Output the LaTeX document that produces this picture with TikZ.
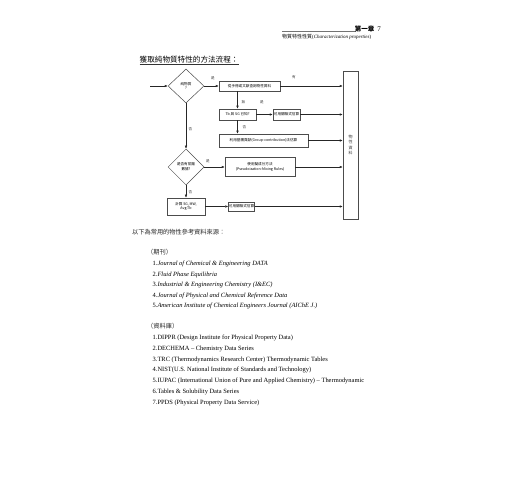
\documentclass[tikz,border=0pt]{standalone}
\usepackage{fontspec}
\setmainfont{Liberation Serif}
\newfontfamily\cjk{Noto Sans CJK TC}
\usetikzlibrary{shapes.geometric,arrows.meta,calc}
\begin{document}
\begin{tikzpicture}[x=1pt,y=-1pt,
  box/.style={draw=black!70,line width=0.5pt,inner sep=0.4pt,font=\cjk\fontsize{3.6}{4.6}\selectfont,align=center},
  dia/.style={draw=black!70,line width=0.5pt,diamond,inner sep=0pt,aspect=1,font=\cjk\fontsize{3.6}{4.8}\selectfont,align=center},
  arr/.style={draw=black!85,line width=0.45pt,-{Latex[length=3pt,width=2.4pt]}},
  lab/.style={font=\cjk\fontsize{3.6}{4}\selectfont,inner sep=0pt,text=black!75},
  ref/.style={anchor=west,inner sep=0pt,font=\fontsize{6.45}{7}\selectfont},
  head/.style={anchor=west,inner sep=0pt,text=black!85,font=\cjk\fontsize{6.2}{7}\selectfont}
]
\useasboundingbox[fill=white] (0,0) rectangle (520,500);

% page header
\draw[black!55,line width=0.4pt] (282,31) -- (356,31);
\node[inner sep=0pt,font=\cjk\bfseries\fontsize{6.5}{7}\selectfont] (chap) at (364.5,28.8) {第一章};
\node[inner sep=0pt,font=\fontsize{7}{8}\selectfont] (pg) at (379,29) {7};
\node[anchor=west,inner sep=0pt,font=\fontsize{5}{6}\selectfont] (sub) at (282,37) {{\cjk 物質特性性質}(\textit{Characterization properties})};

% title
\node[anchor=west,inner sep=0pt,font=\cjk\fontsize{7.6}{9}\selectfont] (title) at (139.5,59.5) {獲取純物質特性的方法流程：};
\draw[black!80,line width=0.45pt] (title.south west) ++(0,0.8) -- ($(title.south east)+(0,0.8)$);

% flowchart
\coordinate (start) at (150,86);
\node[dia,minimum width=36pt,minimum height=34pt] (d1) at (186,86) {純物質\\?};
\node[box,minimum width=61pt,minimum height=10pt] (b1) at (249.5,86) {從手冊或文獻查詢物性資料};
\node[draw=black!70,line width=0.5pt,minimum width=15pt,minimum height=148pt,inner sep=0pt,align=center,text=black!80,font=\cjk\fontsize{4}{5.2}\selectfont] (col) at (350.5,145) {物\\性\\資\\料};
\node[box,minimum width=37pt,minimum height=11pt] (b2) at (237.5,114.5) {Tb 與 SG 已知?};
\node[box,minimum width=27pt,minimum height=11pt] (b3) at (286.5,114.5) {可用關聯式估算};
\node[box,minimum width=89pt,minimum height=13pt] (b4) at (263.5,140.5) {利用基團貢獻(Group-contribution)法估算};
\node[dia,minimum width=36pt,minimum height=36pt] (d2) at (186,167) {是否有蒸餾\\數據?};
\node[box,minimum width=70pt,minimum height=19pt] (b5) at (260,167) {使用擬成分方法\\(Pseudoization-Mixing Rules)};
\node[box,minimum width=38pt,minimum height=17pt] (b6) at (186,206.5) {計算 SG, MW,\\Avg.Tb};
\node[box,minimum width=23pt,minimum height=9pt] (b7) at (241.5,206.5) {可用關聯式估算};

\draw[arr] (start) -- (d1.west);
\draw[arr] (d1.east) -- (b1.west);
\draw[arr] (b1.east) -- (b1.east -| col.west);
\draw[arr] (b2.north |- b1.south) -- (b2.north);
\draw[arr] (b2.east) -- (b3.west);
\draw[arr] (b3.east) -- (b3.east -| col.west);
\draw[arr] (b2.south) -- (b2.south |- b4.north);
\draw[arr] (b4.east) -- (b4.east -| col.west);
\draw[arr] (d1.south) -- (d2.north);
\draw[arr] (d2.east) -- (b5.west);
\draw[arr] (b5.east) -- (b5.east -| col.west);
\draw[arr] (d2.south) -- (b6.north);
\draw[arr] (b6.east) -- (b7.west);
\draw[arr] (b7.east) -- (b7.east -| col.west);

\node[lab] (l1) at (213,78) {是};
\node[lab] (l2) at (294,77) {有};
\node[lab] (l3) at (243.5,102.5) {無};
\node[lab] (l4) at (262,102.5) {是};
\node[lab] (l5) at (244.5,127) {否};
\node[lab] (l6) at (190.5,129) {否};
\node[lab] (l7) at (208,161) {是};
\node[lab] (l8) at (190.5,192) {否};

% references
\node[head] (intro) at (132,232) {以下為常用的物性參考資料來源：};
\node[head] (jh) at (147,252) {（期刊）};
\node[ref] (j1) at (152.5,264) {1.\textit{Journal of Chemical \& Engineering DATA}};
\node[ref] (j2) at (152.5,274.5) {2.\textit{Fluid Phase Equilibria}};
\node[ref] (j3) at (152.5,285) {3.\textit{Industrial \& Engineering Chemistry (I\&EC)}};
\node[ref] (j4) at (152.5,295.5) {4.\textit{Journal of Physical and Chemical Reference Data}};
\node[ref] (j5) at (152.5,306) {5.\textit{American Institute of Chemical Engineers Journal (AIChE J.)}};
\node[head] (dh) at (147,326) {（資料庫）};
\node[ref] (r1) at (152.5,338) {1.DIPPR (Design Institute for Physical Property Data)};
\node[ref] (r2) at (152.5,348.8) {2.DECHEMA – Chemistry Data Series};
\node[ref] (r3) at (152.5,359.6) {3.TRC (Thermodynamics Research Center) Thermodynamic Tables};
\node[ref] (r4) at (152.5,370.4) {4.NIST(U.S. National Institute of Standards and Technology)};
\node[ref] (r5) at (152.5,381.2) {5.IUPAC (International Union of Pure and Applied Chemistry) – Thermodynamic};
\node[ref] (r6) at (152.5,392) {6.Tables \& Solubility Data Series};
\node[ref] (r7) at (152.5,402.8) {7.PPDS (Physical Property Data Service)};
\end{tikzpicture}
\end{document}
